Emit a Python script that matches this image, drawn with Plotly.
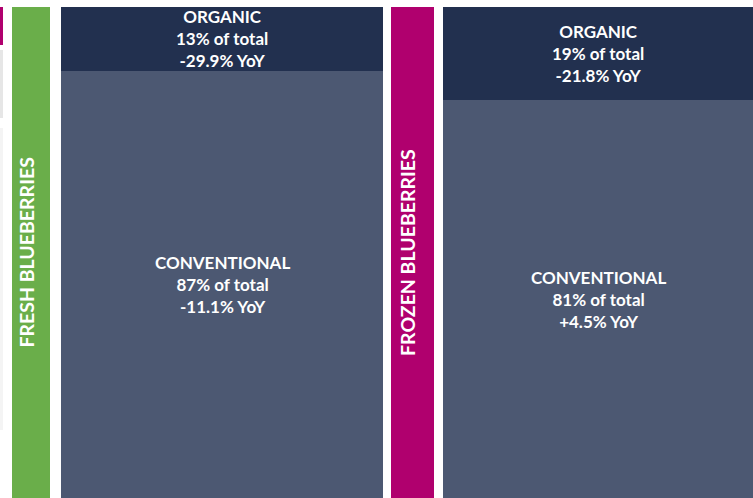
import plotly.graph_objects as go

# Data
panels = ["FRESH BLUEBERRIES", "FROZEN BLUEBERRIES"]
segments = ["CONVENTIONAL", "ORGANIC"]
share_conventional = [87, 81]
share_organic = [13, 19]
yoy_conventional = ["-11.1%", "+4.5%"]
yoy_organic = ["-29.9%", "-21.8%"]
panel_colors = ["#6aae4a", "#b0006e"]

NAVY = "#22304f"
SLATE = "#4c5872"
W, H = 753, 498

fig = go.Figure()

# panel geometry (pixels)
panel_x = [(61, 383), (443, 753)]
band_x = [(12, 50), (391, 434)]
top_px = 7
ydom = [0, (H - top_px) / H]

annotations = []
shapes = []
font = dict(family="Lato, Open Sans, sans-serif", color="white", size=17)

for i, name in enumerate(panels):
    xa = "x" if i == 0 else "x2"
    ya = "y" if i == 0 else "y2"
    fig.add_trace(go.Bar(x=[name], y=[share_conventional[i]], marker=dict(color=SLATE, line=dict(width=0)),
                         width=1, xaxis=xa, yaxis=ya, hoverinfo="skip", showlegend=False))
    fig.add_trace(go.Bar(x=[name], y=[share_organic[i]], marker=dict(color=NAVY, line=dict(width=0)),
                         width=1, xaxis=xa, yaxis=ya, hoverinfo="skip", showlegend=False))
    annotations.append(dict(
        x=name, y=share_conventional[i] / 2, xref=xa, yref=ya, showarrow=False,
        xanchor="center", yanchor="middle",
        text=f"<b>{segments[0]}<br>{share_conventional[i]}% of total<br>{yoy_conventional[i]} YoY</b>",
        font=font, align="center"))
    annotations.append(dict(
        x=name, y=share_conventional[i] + share_organic[i] / 2, xref=xa, yref=ya, showarrow=False,
        xanchor="center", yanchor="middle",
        text=f"<b>{segments[1]}<br>{share_organic[i]}% of total<br>{yoy_organic[i]} YoY</b>",
        font=font, align="center"))
    # colored side band with rotated category label
    x0, x1 = band_x[i]
    shapes.append(dict(type="rect", xref="paper", yref="paper", x0=x0 / W, x1=x1 / W,
                       y0=0, y1=ydom[1], fillcolor=panel_colors[i], line=dict(width=0), layer="below"))
    annotations.append(dict(x=((x0 + x1) / 2 - 5) / W, y=ydom[1] / 2, xref="paper", yref="paper",
                            xanchor="center", yanchor="middle",
                            showarrow=False, textangle=-90, text=f"<b>{name}</b>",
                            font=dict(family="Lato, Open Sans, sans-serif", color="white", size=19.5)))

# partial elements at left edge
shapes.append(dict(type="rect", xref="paper", yref="paper", x0=0, x1=3 / W,
                   y0=1 - 45 / H, y1=1 - 7 / H, fillcolor="#b0006e", line=dict(width=0)))
shapes.append(dict(type="rect", xref="paper", yref="paper", x0=0, x1=3 / W,
                   y0=1 - 118 / H, y1=1 - 50 / H, fillcolor="#e6e6e6", line=dict(width=0)))
shapes.append(dict(type="rect", xref="paper", yref="paper", x0=0, x1=3 / W,
                   y0=1 - 430 / H, y1=1 - 128 / H, fillcolor="#f4f4f4", line=dict(width=0)))

fig.update_layout(
    width=W, height=H, margin=dict(l=0, r=0, t=0, b=0),
    paper_bgcolor="white", plot_bgcolor="white", barmode="stack", bargap=0,
    showlegend=False, annotations=annotations, shapes=shapes,
    xaxis=dict(domain=[panel_x[0][0] / W, panel_x[0][1] / W], visible=False, fixedrange=True),
    xaxis2=dict(domain=[panel_x[1][0] / W, panel_x[1][1] / W], visible=False, fixedrange=True),
    yaxis=dict(domain=ydom, range=[0, 100], visible=False, fixedrange=True),
    yaxis2=dict(domain=ydom, range=[0, 100], visible=False, fixedrange=True, anchor="x2"),
)

fig.write_html("out.html", config={"displayModeBar": False},
               post_script="document.body.style.margin='0px';document.body.style.overflow='hidden';")
